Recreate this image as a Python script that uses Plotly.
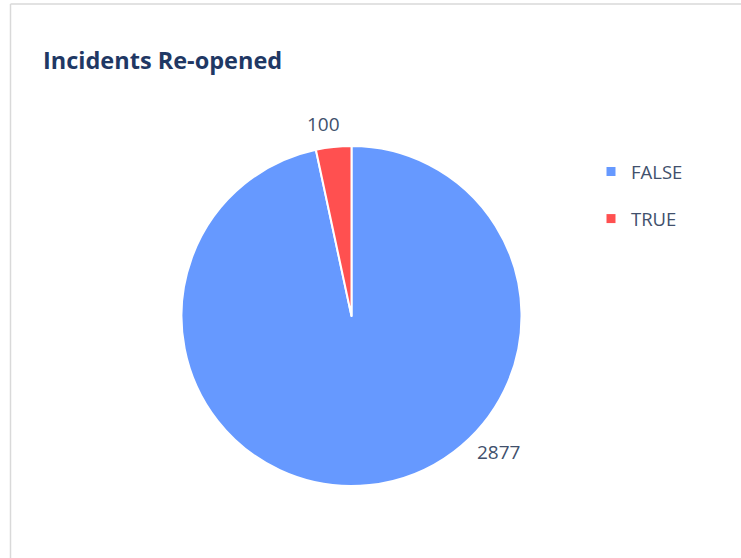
import plotly.graph_objects as go

# Re-opened flag counts
categories = ["FALSE", "TRUE"]
counts = [2877, 100]
slice_colors = ["#6699FF", "#FF5050"]

W, H = 741, 558
TEXT_COLOR = "#41506C"
FONT = "Open Sans"

fig = go.Figure()

# Pie centred at (351.5, 316) px with radius 170 px
cx, cy, r = 351.5, 316, 170
fig.add_trace(go.Pie(
    labels=categories,
    values=counts,
    marker=dict(colors=slice_colors, line=dict(color="white", width=2)),
    sort=False,
    direction="clockwise",
    rotation=0,
    textinfo="none",
    hoverinfo="label+value",
    showlegend=False,
    domain=dict(x=[(cx - r) / W, (cx + r) / W],
                y=[(H - cy - r) / H, (H - cy + r) / H]),
))

# Legend entries, one group each so the spacing can be opened up
for name, color in zip(categories, slice_colors):
    fig.add_trace(go.Scatter(
        x=[None], y=[None], mode="markers", name=name, legendgroup=name,
        marker=dict(symbol="square", size=9, color=color),
        showlegend=True,
    ))

# Value labels placed outside the slices
label_pos = {"TRUE": (323, 124), "FALSE": (498, 452)}
for name, val in zip(categories, counts):
    x, y = label_pos[name]
    fig.add_annotation(
        x=x / W, y=1 - y / H, xref="paper", yref="paper",
        text=str(val), showarrow=False,
        font=dict(family=FONT, size=19, color=TEXT_COLOR),
        xanchor="center", yanchor="middle",
    )

# Title
fig.add_annotation(
    x=41 / W, y=1 - 60 / H, xref="paper", yref="paper",
    text="<b>Incidents Re-opened</b>", showarrow=False,
    font=dict(family=FONT, size=23.5, color="#1F3864"),
    xanchor="left", yanchor="middle",
)

# Chart frame: top and left edges
fig.add_shape(type="line", xref="paper", yref="paper",
              x0=10.5 / W, x1=1, y0=1 - 4 / H, y1=1 - 4 / H,
              line=dict(color="#D9D9D9", width=1.5))
fig.add_shape(type="line", xref="paper", yref="paper",
              x0=10.5 / W, x1=10.5 / W, y0=0, y1=1 - 4 / H,
              line=dict(color="#D9D9D9", width=1.5))

fig.update_layout(
    width=W, height=H,
    margin=dict(l=0, r=0, t=0, b=0),
    paper_bgcolor="white", plot_bgcolor="white",
    xaxis=dict(visible=False), yaxis=dict(visible=False),
    font=dict(family=FONT, color=TEXT_COLOR),
    legend=dict(
        x=591 / W, y=1 - 153 / H, xanchor="left", yanchor="top",
        font=dict(family=FONT, size=18.5, color=TEXT_COLOR),
        tracegroupgap=20, bgcolor="rgba(0,0,0,0)",
    ),
)

fig.write_html("out.html")
